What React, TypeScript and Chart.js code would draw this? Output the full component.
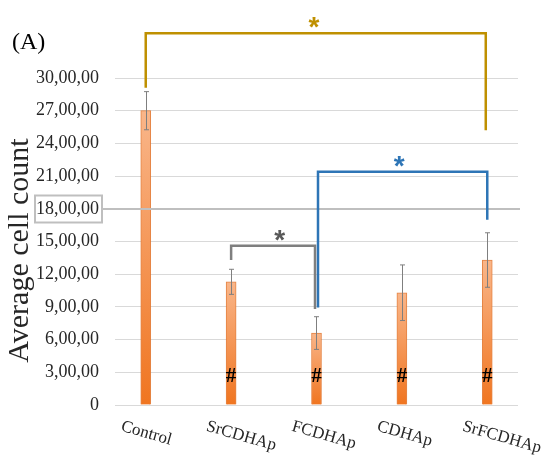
import React, { useEffect, useRef } from "react";
import { Chart, registerables } from "chart.js";

Chart.register(...registerables);

// ---- data ----
const categories = ["Control", "SrCDHAp", "FCDHAp", "CDHAp", "SrFCDHAp"];
const means = [27.0, 11.3, 6.6, 10.3, 13.3];
const errors = [1.75, 1.15, 1.5, 2.55, 2.5];
const hashMarked = [false, true, true, true, true];
const hashValue = 2.6;
const yTickValues = [0, 3, 6, 9, 12, 15, 18, 21, 24, 27, 30];
const yTickLabels = [
  "0",
  "3,00,00",
  "6,00,00",
  "9,00,00",
  "12,00,00",
  "15,00,00",
  "18,00,00",
  "21,00,00",
  "24,00,00",
  "27,00,00",
  "30,00,00",
];
const highlightedTick = 18;
const panelLabel = "(A)";
const yTitle = "Average cell count";

// significance brackets (category index / value)
const bracketFrom = [0, 1, 2];
const bracketTo = [4, 2, 4];
const bracketTop = [34.1, 14.6, 21.4];
const bracketFromEnd = [29.1, 13.3, 8.95];
const bracketToEnd = [25.2, 8.8, 17.0];
const starIndex = [1.97, 1.57, 2.97];
const starValue = [35.4, 15.9, 22.7];

// ---- styles ----
const bracketColors = ["#BF9000", "#7F7F7F", "#2E75B6"];
const starColors = ["#BF9000", "#595959", "#2E75B6"];
const bracketFromOffset = [0, 0, 1.5];
const bracketToOffset = [-1.5, -1.5, 0];
const SERIF = "Liberation Serif";

const annotationPlugin = {
  id: "annotations",
  afterDatasetsDraw(chart: any) {
    const { ctx, chartArea } = chart;
    const xs = chart.scales.x;
    const ys = chart.scales.y;
    ctx.save();

    // highlighted 18 line over bars + box around its label
    const y18 = Math.round(ys.getPixelForValue(highlightedTick));
    ctx.strokeStyle = "#BFBFBF";
    ctx.lineWidth = 2;
    ctx.beginPath();
    ctx.moveTo(102, y18);
    ctx.lineTo(chartArea.right + 2, y18);
    ctx.stroke();
    ctx.strokeRect(35, y18 - 13.5, 67, 27);

    // error bars
    ctx.strokeStyle = "#7F7F7F";
    ctx.lineWidth = 1;
    means.forEach((m, i) => {
      const x = Math.round(xs.getPixelForValue(i)) + 0.5;
      const yT = ys.getPixelForValue(m + errors[i]);
      const yB = ys.getPixelForValue(m - errors[i]);
      ctx.beginPath();
      ctx.moveTo(x, yT);
      ctx.lineTo(x, yB);
      ctx.moveTo(x - 2.5, yT);
      ctx.lineTo(x + 2.5, yT);
      ctx.moveTo(x - 2.5, yB);
      ctx.lineTo(x + 2.5, yB);
      ctx.stroke();
    });

    // hash marks
    ctx.fillStyle = "#000";
    ctx.font = `bold 21px "${SERIF}", serif`;
    ctx.textAlign = "center";
    ctx.textBaseline = "middle";
    hashMarked.forEach((h, i) => {
      if (!h) return;
      ctx.fillText("#", xs.getPixelForValue(i), ys.getPixelForValue(hashValue));
    });

    // brackets
    ctx.lineWidth = 2.5;
    ctx.lineJoin = "miter";
    bracketFrom.forEach((f, k) => {
      const x1 = xs.getPixelForValue(f) + bracketFromOffset[k];
      const x2 = xs.getPixelForValue(bracketTo[k]) + bracketToOffset[k];
      const yTop = ys.getPixelForValue(bracketTop[k]);
      ctx.strokeStyle = bracketColors[k];
      ctx.beginPath();
      ctx.moveTo(x1, ys.getPixelForValue(bracketFromEnd[k]));
      ctx.lineTo(x1, yTop);
      ctx.lineTo(x2, yTop);
      ctx.lineTo(x2, ys.getPixelForValue(bracketToEnd[k]));
      ctx.stroke();
    });

    // stars
    ctx.font = `bold 28px "Liberation Sans", Arial, sans-serif`;
    ctx.textAlign = "center";
    ctx.textBaseline = "alphabetic";
    starIndex.forEach((s, k) => {
      ctx.fillStyle = starColors[k];
      ctx.fillText("*", xs.getPixelForValue(s), ys.getPixelForValue(starValue[k]) + 17);
    });
    ctx.restore();
  },
  afterDraw(chart: any) {
    const { ctx, chartArea } = chart;
    const xs = chart.scales.x;
    ctx.save();
    // rotated category labels
    ctx.fillStyle = "#262626";
    ctx.font = `17px "${SERIF}", serif`;
    ctx.textAlign = "left";
    ctx.textBaseline = "top";
    categories.forEach((c, i) => {
      ctx.save();
      ctx.translate(xs.getPixelForValue(i) - 22, 418);
      ctx.rotate((16 * Math.PI) / 180);
      ctx.fillText(c, 0, 0);
      ctx.restore();
    });
    // y axis title
    ctx.save();
    ctx.fillStyle = "#262626";
    ctx.font = `30px "${SERIF}", serif`;
    ctx.textAlign = "center";
    ctx.textBaseline = "middle";
    ctx.translate(20, (chartArea.top + chartArea.bottom) / 2 + 9);
    ctx.rotate(-Math.PI / 2);
    ctx.fillText(yTitle, 0, 0);
    ctx.restore();
    // panel label
    ctx.fillStyle = "#000";
    ctx.font = `24px "${SERIF}", serif`;
    ctx.textAlign = "left";
    ctx.textBaseline = "middle";
    ctx.fillText(panelLabel, 12, 43);
    ctx.restore();
  },
};

export default function App() {
  const ref = useRef<HTMLCanvasElement | null>(null);
  useEffect(() => {
    if (!ref.current) return;
    const chart = new Chart(ref.current, {
      type: "bar",
      data: {
        datasets: [
          {
            data: means.map((m, i) => ({ x: i, y: m })),
            barThickness: 10,
            borderWidth: 1,
            borderColor: "rgba(225,110,35,0.85)",
            backgroundColor: (c: any) => {
              const ys = c.chart.scales?.y;
              if (!ys || c.type !== "data" || !c.parsed) return "#F4914A";
              const top = ys.getPixelForValue(c.parsed.y);
              const base = ys.getPixelForValue(0);
              if (!isFinite(top) || !isFinite(base) || top === base) return "#F4914A";
              const g = c.chart.ctx.createLinearGradient(0, top, 0, base);
              g.addColorStop(0, "#F9B68A");
              g.addColorStop(1, "#F07520");
              return g;
            },
          },
        ],
      },
      options: {
        animation: false,
        responsive: false,
        font: { family: SERIF },
        layout: { padding: { left: 0, top: 78, right: 30, bottom: 57 } },
        plugins: { legend: { display: false }, tooltip: { enabled: false } },
        scales: {
          x: { type: "linear", min: -0.36, max: 4.36, offset: false, display: false },
          y: {
            min: 0,
            max: 30,
            afterFit: (s: any) => {
              s.width = 115;
            },
            border: { display: false },
            grid: {
              drawTicks: false,
              color: (c: any) => (c.tick && c.tick.value === highlightedTick ? "#BFBFBF" : "#D9D9D9"),
              lineWidth: (c: any) => (c.tick && c.tick.value === highlightedTick ? 2 : 1),
            },
            ticks: {
              stepSize: 3,
              padding: 16,
              color: "#262626",
              font: { family: SERIF, size: 18 },
              callback: (v: any) => {
                const idx = yTickValues.indexOf(Number(v));
                return idx >= 0 ? yTickLabels[idx] : "";
              },
            },
            title: { display: false },
          },
        },
      },
      plugins: [annotationPlugin],
    } as any);
    return () => chart.destroy();
  }, []);
  return (
    <div style={{ position: "fixed", left: 0, top: 0, width: 548, height: 462, background: "#fff" }}>
      <canvas ref={ref} width={548} height={462} style={{ display: "block" }} />
    </div>
  );
}
